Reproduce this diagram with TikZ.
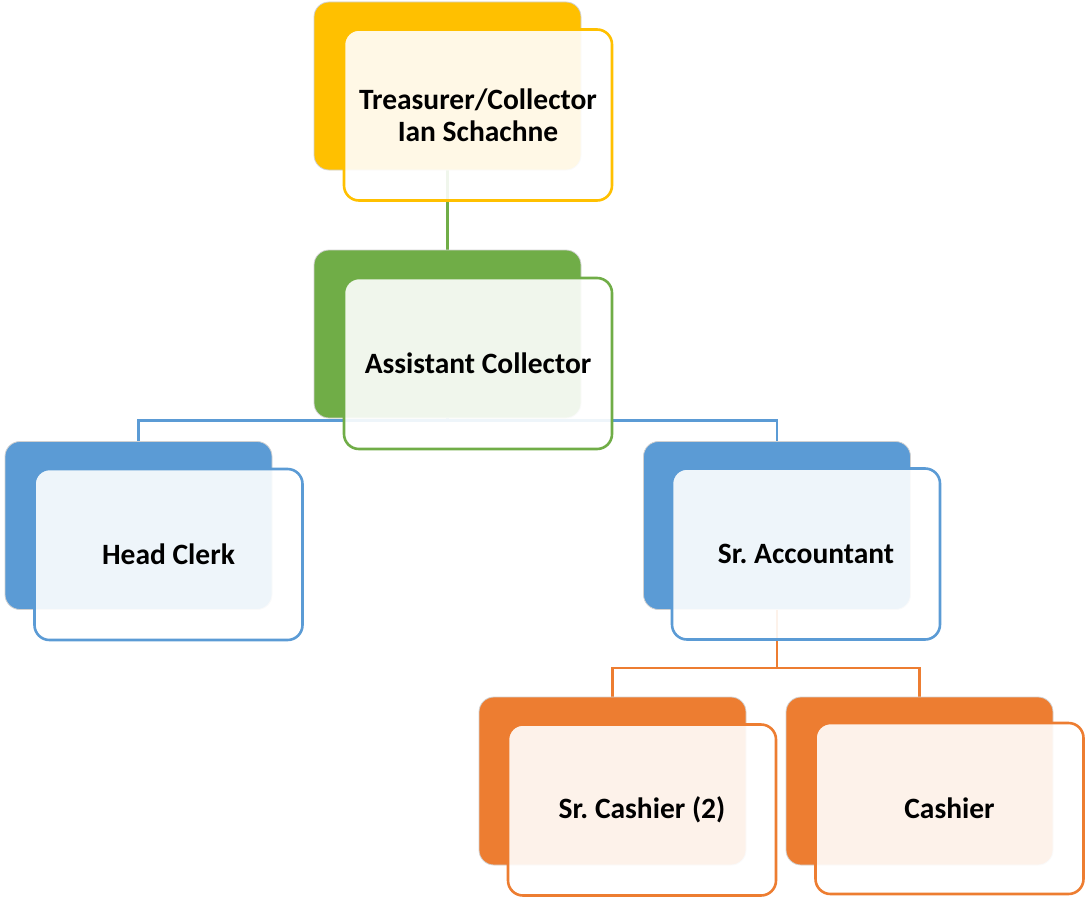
\documentclass[tikz,border=0pt]{standalone}
\usepackage{fontspec}
\setmainfont{Carlito}
\usetikzlibrary{backgrounds}
\frenchspacing
\definecolor{cgold}{HTML}{FFC000}
\definecolor{cgreen}{HTML}{70AD47}
\definecolor{cblue}{HTML}{5B9BD5}
\definecolor{corange}{HTML}{ED7D31}
\tikzset{
  backbox/.style={rectangle, rounded corners=15pt, minimum width=267pt, minimum height=168pt,
    fill=#1, draw=black!18, line width=0.8pt, inner sep=0pt},
  frontbox/.style={rectangle, rounded corners=15pt, minimum width=268pt, minimum height=171pt,
    fill=white, fill opacity=0.9, text opacity=1, draw=#1, line width=2.6pt, inner sep=0pt,
    font=\fontsize{29.5}{32}\selectfont\bfseries\frenchspacing, align=center, text=black},
  link/.style={draw=#1, line width=2.8pt}
}
\begin{document}
\begin{tikzpicture}[x=1pt, y=-1pt]
\useasboundingbox (0,0) rectangle (1086,899);
% top
\node[backbox=cgold] (b-top) at (447.5,86) {};
\node[frontbox=cgold] (f-top) at (478,115) {Treasurer/Collector\\Ian Schachne};
% assistant
\node[backbox=cgreen] (b-asst) at (447.5,334) {};
\node[frontbox=cgreen] (f-asst) at (478,363.5) {Assistant Collector};
% head clerk
\node[backbox=cblue] (b-head) at (138.5,525.5) {};
\node[frontbox=cblue] (f-head) at (168.5,554.5) {Head Clerk};
% sr accountant
\node[backbox=cblue] (b-acct) at (777,525.5) {};
\node[frontbox=cblue] (f-acct) at (806,554) {Sr. Accountant};
% sr cashier
\node[backbox=corange] (b-scash) at (612.5,781) {};
\node[frontbox=corange] (f-scash) at (642,810) {Sr. Cashier (2)};
% cashier
\node[backbox=corange] (b-cash) at (919.5,781) {};
\node[frontbox=corange] (f-cash) at (949.5,808.5) {Cashier};
\begin{scope}[on background layer]
  \draw[link=cgreen] (b-top.south) -- (b-asst.north);
  \coordinate (jb) at ([yshift=-2pt]b-asst.south);
  \draw[link=cblue] (b-asst.south) -- (jb) -| (b-head.north);
  \draw[link=cblue] (jb) -| (b-acct.north);
  \coordinate (jo) at ([yshift=-58pt]b-acct.south);
  \draw[link=corange] (b-acct.south) -- (jo) -| (b-scash.north);
  \draw[link=corange] (jo) -| (b-cash.north);
\end{scope}
\end{tikzpicture}
\end{document}
